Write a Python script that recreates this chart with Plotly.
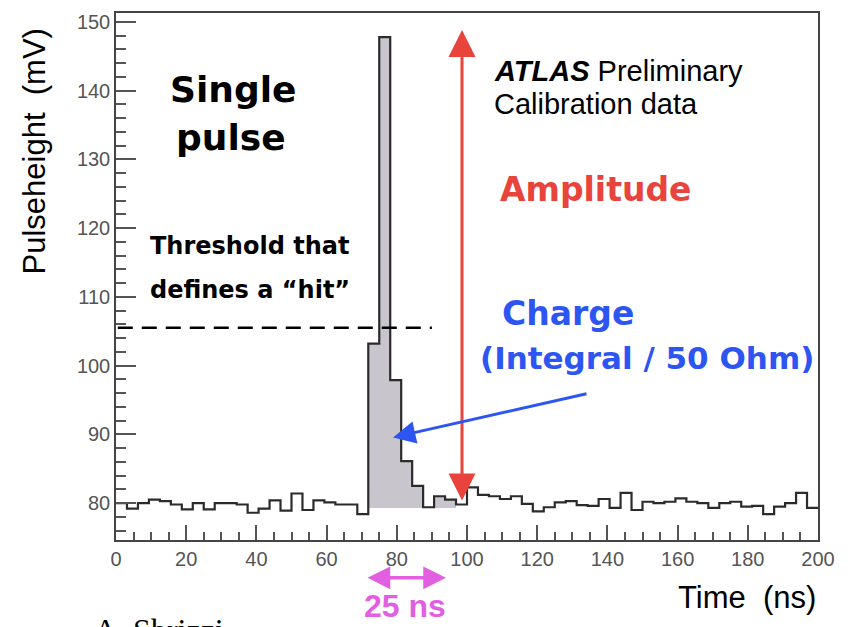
import plotly.graph_objects as go
import numpy as np

# ---------------- data ----------------
bin_width_ns = 3.125
pulse_mv = [
    80.0, 79.2, 80.0, 80.5, 80.3, 79.8, 79.1, 80.0, 79.1, 80.0,
    80.0, 79.8, 78.6, 79.2, 80.4, 78.9, 81.4, 79.0, 80.4, 80.1,
    79.8, 79.8, 78.4, 103.2, 147.8, 97.9, 86.1, 82.5, 79.4, 81.0,
    80.5, 79.8, 82.3, 81.2, 81.0, 80.6, 81.0, 79.9, 78.8, 79.4,
    80.1, 80.3, 79.7, 79.6, 80.6, 79.3, 81.5, 79.0, 80.2, 80.0,
    80.2, 80.7, 80.2, 80.0, 79.3, 80.0, 80.2, 79.5, 79.6, 78.4,
    79.5, 80.0, 81.5, 79.3,
]
charge_first_bin = 23
charge_n_bins = 8          # 8 x 3.125 ns = 25 ns window
charge_base_mv = 79.3
threshold_mv = 105.5
threshold_x_ns = [0.5, 90.0]
x_ticks = list(range(0, 201, 20))
y_ticks = list(range(80, 151, 10))

edges = np.arange(len(pulse_mv) + 1) * bin_width_ns
vals = np.array(pulse_mv)

# ---------------- figure ----------------
W, H = 848, 627
L, R, T, B = 116, 818, 11, 540


def px(p):
    return (p - L) / (R - L)


def py(p):
    return (B - p) / (B - T)


fig = go.Figure()

# charge fill (baseline + step area)
i0, i1 = charge_first_bin, charge_first_bin + charge_n_bins
fig.add_trace(go.Scatter(
    x=[edges[i0], edges[i1]], y=[charge_base_mv, charge_base_mv],
    mode="lines", line=dict(width=0), hoverinfo="skip", showlegend=False))
fig.add_trace(go.Scatter(
    x=edges[i0:i1 + 1], y=np.append(vals[i0:i1], vals[i1 - 1]),
    mode="lines", line=dict(width=0, shape="hv"), fill="tonexty",
    fillcolor="#c9c5cd", hoverinfo="skip", showlegend=False))

# histogram outline
fig.add_trace(go.Scatter(
    x=edges, y=np.append(vals, vals[-1]), mode="lines",
    line=dict(color="#2b2b2b", width=2.2, shape="hv"), showlegend=False))

# threshold dashed line
fig.add_shape(type="line", xref="x", yref="y",
              x0=threshold_x_ns[0], x1=threshold_x_ns[1],
              y0=threshold_mv, y1=threshold_mv,
              line=dict(color="black", width=2.5, dash="15px,9px"))

tickfont = dict(family="Liberation Sans, Arial", size=20, color="#555")
fig.update_xaxes(range=[0, 200], tickmode="array", tickvals=x_ticks,
                 ticks="inside", ticklen=15, tickwidth=1.5, tickcolor="#555",
                 minor=dict(ticks="inside", ticklen=8, dtick=5, tick0=0,
                            tickwidth=1.5, tickcolor="#555", showgrid=False),
                 showline=True, mirror=True, linecolor="#444", linewidth=1.5,
                 showgrid=False, zeroline=False, tickfont=tickfont)
fig.update_yaxes(range=[80 - (B - 503) / 6.9, 80 + (503 - T) / 6.9],
                 tickmode="array", tickvals=y_ticks,
                 ticks="inside", ticklen=20, tickwidth=1.5, tickcolor="#555",
                 minor=dict(ticks="inside", ticklen=10, dtick=2, tick0=0,
                            tickwidth=1.5, tickcolor="#555", showgrid=False),
                 showline=True, mirror=True, linecolor="#444", linewidth=1.5,
                 showgrid=False, zeroline=False, tickfont=tickfont)

RED = "#e8443b"
BLUE = "#2d55f2"
MAG = "#e25fe2"
HAND = "DejaVu Sans"
HELV = "Liberation Sans, Arial"

ann = []


def text(t, x, y, size, color="black", family=HAND, xa="left", ya="middle",
         angle=0):
    ann.append(dict(text=t, xref="paper", yref="paper", x=px(x), y=py(y),
                    xanchor=xa, yanchor=ya, showarrow=False, textangle=angle,
                    font=dict(family=family, size=size, color=color)))


text("<b>Single</b>", 233, 88, 36, xa="center")
text("<b>pulse</b>", 231, 136, 36, xa="center")
text("<b>Threshold that</b>", 148, 245, 24)
text("<b>defines a “hit”</b>", 148, 289, 24)
text("<b><i>ATLAS</i></b> Preliminary", 492, 69, 29, family=HELV)
text("Calibration data", 492, 102, 29, family=HELV)
text("<b>Amplitude</b>", 498, 188, 33, color=RED)
text("<b>Charge</b>", 500, 313, 33, color=BLUE)
text("<b>(Integral / 50 Ohm)</b>", 478, 357, 31, color=BLUE)
text("<b>25 ns</b>", 405, 606, 32, color=MAG,
     family="Liberation Sans Narrow, Liberation Sans", xa="center")
text("Time  (ns)", 818, 598, 31, family=HELV, xa="right")
text("Pulseheight  (mV)", 34, 150, 31, family=HELV, xa="center", angle=-90)
text("A. Sbrizzi", 92, 610, 32, family="Liberation Serif", ya="top")


def arrow(x_head, y_head, x_tail, y_tail, color, width, size, both=False):
    ann.append(dict(text="", xref="paper", yref="paper",
                    x=px(x_head), y=py(y_head),
                    ax=x_tail - x_head, ay=y_tail - y_head,
                    showarrow=True, arrowhead=2, startarrowhead=2,
                    arrowsize=size, startarrowsize=size, arrowwidth=width,
                    arrowcolor=color,
                    arrowside="end+start" if both else "end"))


arrow(462, 28, 462, 500, RED, 3, 1.8, both=True)
arrow(393, 437, 588, 393, BLUE, 3, 1.5)
arrow(446, 578, 366, 578, MAG, 3.5, 1.3, both=True)

fig.update_layout(width=W, height=H,
                  margin=dict(l=L, r=W - R, t=T, b=H - B),
                  paper_bgcolor="white", plot_bgcolor="white",
                  showlegend=False, annotations=ann)

fig.write_html("out.html", config={"displayModeBar": False},
               post_script="document.body.style.margin='0px';"
                           "document.body.style.overflow='hidden';")
